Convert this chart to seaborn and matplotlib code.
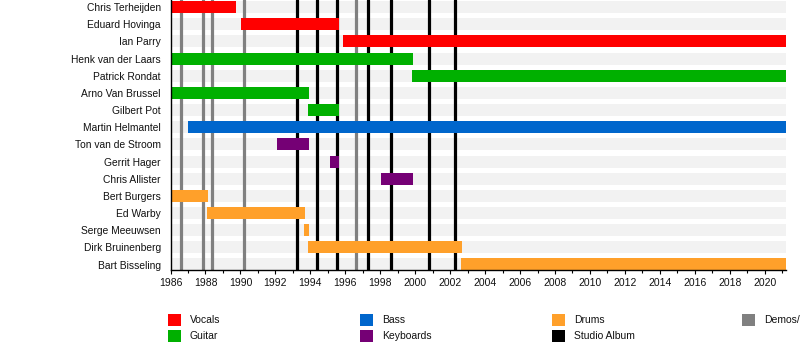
import matplotlib
matplotlib.use("Agg")
import matplotlib.pyplot as plt
from matplotlib.patches import Rectangle
from matplotlib.ticker import MultipleLocator
import seaborn as sns
import pandas as pd

# ---- data ----
members = ["Chris Terheijden", "Eduard Hovinga", "Ian Parry", "Henk van der Laars",
           "Patrick Rondat", "Arno Van Brussel", "Gilbert Pot", "Martin Helmantel",
           "Ton van de Stroom", "Gerrit Hager", "Chris Allister", "Bert Burgers",
           "Ed Warby", "Serge Meeuwsen", "Dirk Bruinenberg", "Bart Bisseling"]
roles = ["Vocals", "Vocals", "Vocals", "Guitar", "Guitar", "Guitar", "Guitar", "Bass",
         "Keyboards", "Keyboards", "Keyboards", "Drums", "Drums", "Drums", "Drums", "Drums"]
starts = [1986.0, 1990.03, 1995.87, 1986.0, 1999.82, 1986.0, 1993.86, 1986.99,
          1992.09, 1995.12, 1998.04, 1986.0, 1988.08, 1993.63, 1993.86, 2002.63]
ends = [1989.74, 1995.64, 2021.2, 1999.88, 2021.2, 1993.92, 1995.64, 2021.2,
        1993.92, 1995.64, 1999.88, 1988.14, 1993.69, 1993.92, 2002.68, 2021.2]
studio_albums = [1993.25, 1994.40, 1995.54, 1997.32, 1998.63, 2000.81, 2002.30]
demos = [1986.59, 1987.87, 1988.38, 1990.22, 1996.63]
x_start, x_end = 1986.0, 2021.2

role_colors = {"Vocals": "#ff0000", "Guitar": "#00b000", "Bass": "#0066cc",
               "Keyboards": "#750075", "Drums": "#ffa02a",
               "Studio Album": "#000000", "Demos/EPs": "#808080"}
legend_order = ["Vocals", "Guitar", "Bass", "Keyboards", "Drums", "Studio Album", "Demos/EPs"]

df = pd.DataFrame({"member": members, "role": roles, "start": starts, "end": ends})
df["dur"] = df["end"] - df["start"]

sns.set_theme(style="white")
plt.rcParams["font.family"] = ["Liberation Sans", "DejaVu Sans"]

fig = plt.figure(figsize=(8, 3.5), dpi=100)
ax = fig.add_axes([170.5 / 800, 1 - 270 / 350, (785.7 - 170.5) / 800, 270 / 350])

band_h = 0.70
# background bands
bg = pd.DataFrame({"member": members, "full": [x_end] * len(members)})
sns.barplot(data=bg, y="member", x="full", orient="h", color="#f2f2f2",
            width=band_h, ax=ax, zorder=0, linewidth=0, saturation=1)

# event lines
for d in demos:
    ax.axvline(d, color="#808080", lw=2.3, zorder=1)
for d in studio_albums:
    ax.axvline(d, color="#000000", lw=2.3, zorder=1)

# member bars
for i, row in df.iterrows():
    ax.barh(i, row["dur"], left=row["start"], height=band_h,
            color=role_colors[row["role"]], linewidth=0, zorder=2)

ax.set_xlim(x_start, x_end)
ax.set_ylim(15.32, -0.41)
ax.set_xlabel("")
ax.set_ylabel("")
ax.xaxis.set_major_locator(MultipleLocator(2))
ax.xaxis.set_minor_locator(MultipleLocator(1))
ax.xaxis.set_major_formatter(matplotlib.ticker.FuncFormatter(lambda v, p: f"{int(round(v))}"))
ax.tick_params(axis="x", which="major", bottom=True, length=3, width=0.8,
               color="black", labelsize=7.5, pad=3, labelcolor="#111111")
ax.tick_params(axis="x", which="minor", bottom=True, length=2, width=0.8, color="black")
ax.tick_params(axis="y", left=False, length=0, labelsize=7.4, pad=7, labelcolor="#111111")
for s in ["top", "right"]:
    ax.spines[s].set_visible(False)
for s in ["left", "bottom"]:
    ax.spines[s].set_color("black")
    ax.spines[s].set_linewidth(1.0)
ax.spines["left"].set_zorder(5)

# legend (manual, column-major, 4 columns)
col_x = [168, 360, 552, 742]
row_y = [320, 336]
sq = 12.5
for k, name in enumerate(legend_order):
    c, r = divmod(k, 2)
    x0 = col_x[c]
    yc = row_y[r]
    fig.add_artist(Rectangle((x0 / 800, 1 - (yc + sq / 2) / 350), sq / 800, sq / 350,
                             transform=fig.transFigure, facecolor=role_colors[name],
                             edgecolor="none"))
    fig.text((x0 + 22) / 800, 1 - yc / 350, name, fontsize=7.5, va="center",
             ha="left", color="#111111")

fig.savefig("out.png", dpi=100)
